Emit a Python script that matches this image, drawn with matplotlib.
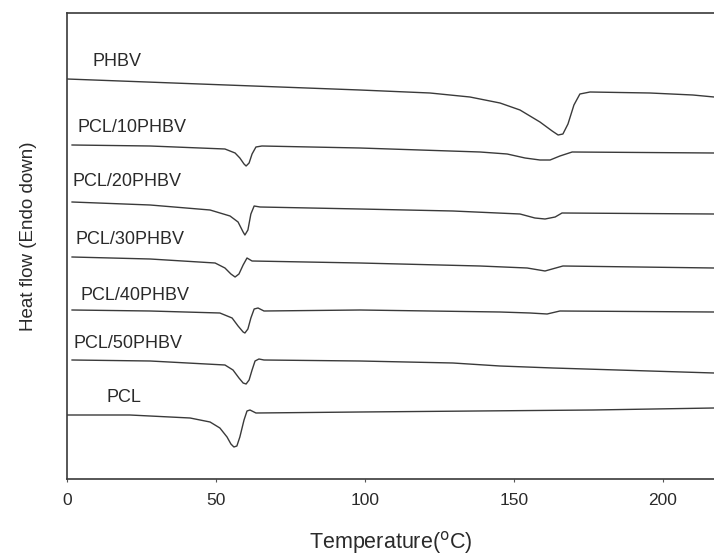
import matplotlib.pyplot as plt

plt.rcParams['font.family'] = ['Liberation Sans', 'DejaVu Sans']

# DSC traces (temperature in C, heat flow in arbitrary units)
phbv_t = [0, 44.6, 98.3, 121.8, 135.2, 145.3, 152, 158.7, 162.8, 164.8, 166.4, 168.1, 170.1, 172.1, 175.5, 195.6, 210, 217.1]
phbv_h = [4.00, 3.95, 3.89, 3.86, 3.82, 3.76, 3.69, 3.57, 3.48, 3.44, 3.45, 3.55, 3.74, 3.85, 3.87, 3.86, 3.84, 3.82]

p10_t = [1.7, 27.9, 53, 56.4, 58, 59.4, 60.1, 61.1, 62.1, 63.4, 65.4, 98.3, 138.6, 147.7, 153.7, 158.7, 162.1, 165.4, 169.5, 217.1]
p10_h = [3.34, 3.33, 3.30, 3.26, 3.21, 3.15, 3.13, 3.16, 3.25, 3.32, 3.33, 3.31, 3.27, 3.25, 3.21, 3.19, 3.19, 3.23, 3.27, 3.26]

p20_t = [1.7, 27.9, 48, 54.7, 57.4, 59.1, 59.7, 60.7, 61.7, 62.8, 64.8, 98.3, 129.5, 152, 157, 160.4, 163.8, 166.1, 217.1]
p20_h = [2.77, 2.74, 2.69, 2.63, 2.57, 2.47, 2.44, 2.49, 2.65, 2.73, 2.72, 2.70, 2.68, 2.65, 2.61, 2.60, 2.62, 2.66, 2.65]

p30_t = [1.7, 27.9, 49.7, 53, 55, 56.4, 57.7, 59.1, 60.4, 62.1, 98.3, 138.6, 154.4, 160.4, 166.4, 217.1]
p30_h = [2.22, 2.20, 2.16, 2.11, 2.05, 2.02, 2.05, 2.14, 2.21, 2.18, 2.16, 2.13, 2.11, 2.08, 2.13, 2.11]

p40_t = [1.7, 27.9, 51.3, 55.4, 57.4, 59.1, 59.7, 60.7, 61.7, 62.8, 64.1, 66.1, 98.3, 145.3, 155.4, 161.1, 165.4, 217.1]
p40_h = [1.69, 1.68, 1.66, 1.61, 1.53, 1.47, 1.46, 1.50, 1.61, 1.70, 1.71, 1.68, 1.69, 1.67, 1.66, 1.65, 1.68, 1.67]

p50_t = [1.7, 27.9, 53, 55.7, 57.7, 59.1, 60.1, 61.1, 62.1, 63.1, 64.4, 66.1, 98.3, 129.5, 145.3, 163.1, 217.1]
p50_h = [1.19, 1.18, 1.14, 1.09, 1.01, 0.96, 0.95, 0.99, 1.09, 1.18, 1.20, 1.19, 1.18, 1.16, 1.13, 1.11, 1.06]

pcl_t = [0, 21.1, 41.3, 48, 51.3, 53.7, 55, 56, 57, 58, 59.4, 60.4, 61.4, 63.4, 98.3, 176.5, 217.1]
pcl_h = [0.64, 0.64, 0.61, 0.57, 0.51, 0.42, 0.35, 0.32, 0.33, 0.42, 0.59, 0.68, 0.69, 0.66, 0.67, 0.69, 0.71]

curves = [(phbv_t, phbv_h), (p10_t, p10_h), (p20_t, p20_h), (p30_t, p30_h),
          (p40_t, p40_h), (p50_t, p50_h), (pcl_t, pcl_h)]

# label text and where it sits (temperature, heat flow)
labels = ['PHBV', 'PCL/10PHBV', 'PCL/20PHBV', 'PCL/30PHBV', 'PCL/40PHBV', 'PCL/50PHBV', 'PCL']
label_x = [8.6, 3.4, 1.7, 2.7, 4.4, 2.3, 13.4]
label_y = [4.17, 3.52, 2.97, 2.39, 1.84, 1.36, 0.82]

fig = plt.figure(figsize=(7.14, 5.55), dpi=100)
ax = fig.add_axes([67 / 714, 76 / 555, 1 - 67 / 714, 466 / 555])

line_col = '#3a3a3a'
for t, h in curves:
    ax.plot(t, h, color=line_col, linewidth=1.0, solid_joinstyle='round')

for txt, x, y in zip(labels, label_x, label_y):
    ax.text(x, y, txt, fontsize=13, color='#2a2a2a', va='center', ha='left')

ax.set_xlim(0, 217.1)
ax.set_ylim(0, 4.66)
ax.set_xticks([0, 50, 100, 150, 200])
ax.set_yticks([])
ax.tick_params(axis='x', direction='out', length=2, width=0.8, colors='#555555',
               labelcolor='#2a2a2a', labelsize=12.5, pad=8)
ax.spines['right'].set_visible(False)
for s in ['left', 'top', 'bottom']:
    ax.spines[s].set_color('#3a3a3a')
    ax.spines[s].set_linewidth(1.2)

ax.set_xlabel('Temperature($^\\mathrm{o}$C)', fontsize=15.5, color='#2a2a2a', labelpad=15)
ax.set_ylabel('Heat flow (Endo down)', fontsize=13.5, color='#2a2a2a')
ax.yaxis.set_label_coords(-0.047, 0.52)

fig.savefig('out.png', dpi=100)
